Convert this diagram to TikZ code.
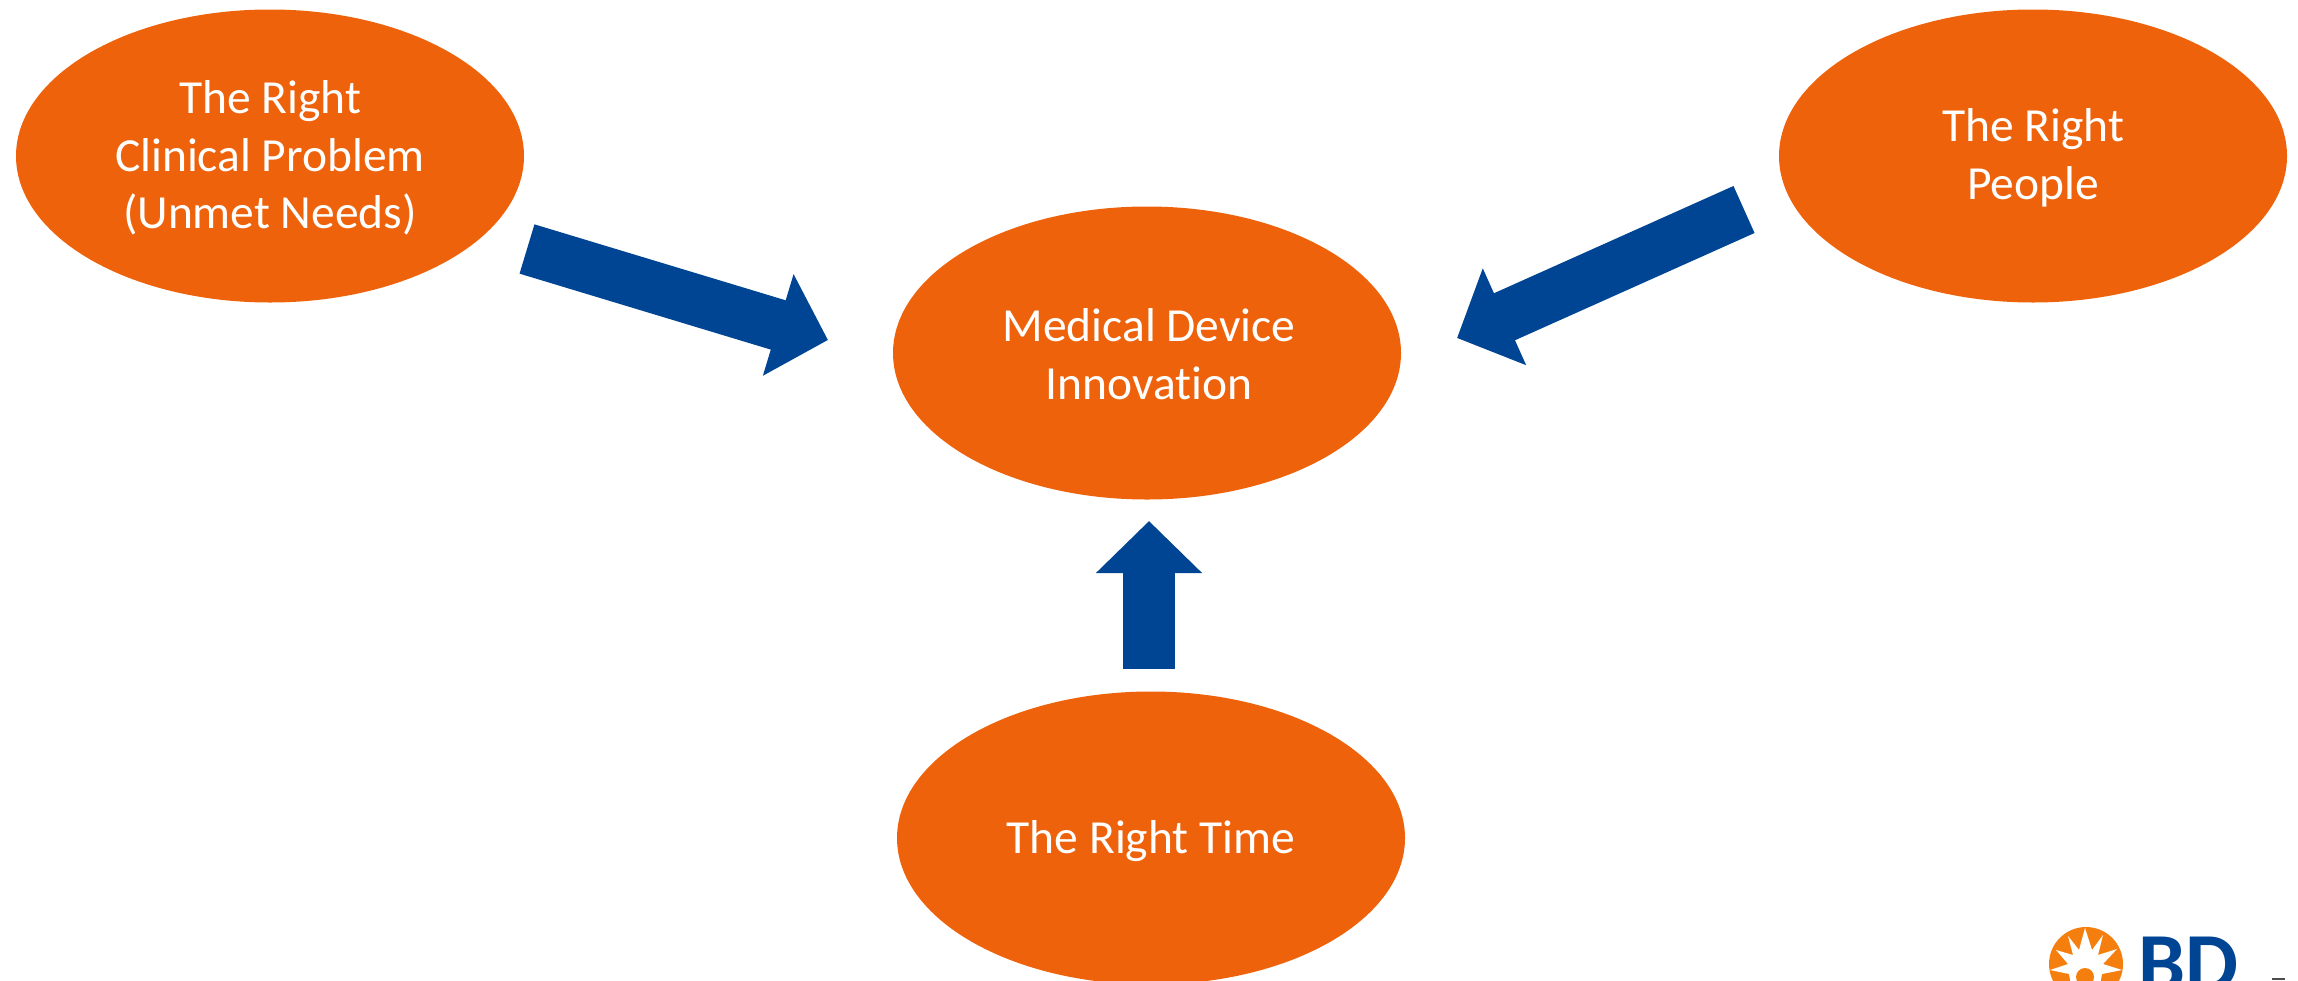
\documentclass[tikz,border=0pt]{standalone}
\usepackage{fontspec}
\setmainfont[Ligatures=NoCommon]{Carlito}
\usetikzlibrary{arrows.meta,shapes.geometric}
\definecolor{bdorange}{HTML}{EE620B}
\definecolor{bdblue}{HTML}{004593}
\definecolor{sunorange}{HTML}{F57F0E}
\tikzset{
  x=1pt,y=-1pt,
  bubble/.style={ellipse,fill=bdorange,inner sep=0pt,
    minimum width=508pt,minimum height=293pt},
  bubbletext/.style={text=white,inner sep=0pt,align=center,
    font=\fontsize{47.5}{57.7}\selectfont},
  bigarrow/.style={draw=bdblue,line width=51.5pt,
    -{Triangle[length=52pt,width=103pt,fill=bdblue,color=bdblue]}},
}
\begin{document}
\begin{tikzpicture}
\useasboundingbox (0,0) rectangle (2298,980);
\clip (0,0) rectangle (2298,980);
\node[bubble] (prob) at (270,156) {};
\node[bubble] (inno) at (1147,353) {};
\node[bubble] (people) at (2033,156) {};
\node[bubble] (time) at (1151,838) {};
\node[bubbletext] (probt) at (270,158) {The Right\\Clinical Problem\\(Unmet Needs)};
\node[bubbletext] (innot) at (1149,354) {Medical Device\\Innovation};
\node[bubbletext] (peoplet) at (2033,158) {The Right\\People};
\node[bubbletext] (timet) at (1151,841) {The Right Time};
\coordinate (a1s) at (527,249);
\coordinate (a1e) at (828,340);
\coordinate (a2s) at (1744,209.5);
\coordinate (a2e) at (1457,338);
\coordinate (a3s) at (1149,669);
\coordinate (a3e) at (1149,521);
\draw[bigarrow] (a1s) -- (a1e);
\draw[bigarrow] (a2s) -- (a2e);
\draw[bigarrow] (a3s) -- (a3e);
% logo
\fill[sunorange] (2086,964) circle (37);
\fill[white] (2050,970) -- (2068,964) -- (2056,950) -- (2073,955) -- (2068,936) -- (2079,950)
  -- (2085,928) -- (2092,950) -- (2103,935) -- (2098,955) -- (2117,949) -- (2103,964)
  -- (2122,970) -- (2102,974) -- (2100,985) -- (2071,985) -- (2069,974) -- cycle;
\fill[sunorange] (2085,977) circle (9);
\node[font=\fontsize{84}{84}\selectfont\bfseries,text=bdblue,inner sep=0pt,anchor=base west] (bd) at (2138,991) {BD};
\fill[black!70] (2272,978) rectangle (2285,980);
\end{tikzpicture}
\end{document}
